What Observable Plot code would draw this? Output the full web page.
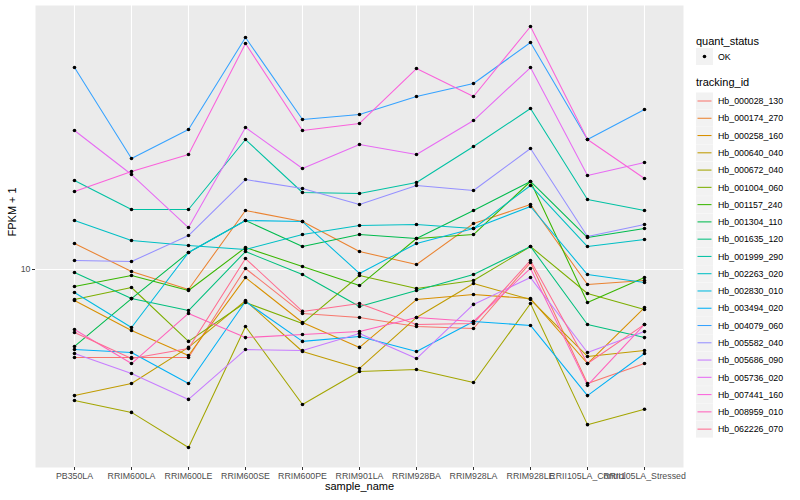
<!DOCTYPE html>
<html>
<head>
<meta charset="utf-8">
<script src="https://cdn.jsdelivr.net/npm/d3@7"></script>
<script src="https://cdn.jsdelivr.net/npm/@observablehq/plot@0.6"></script>
<style>
  body { margin: 0; background: #fff; }
  #wrap { position: relative; width: 800px; height: 500px; font-family: "Liberation Sans", Arial, sans-serif; }
  #chart { position: absolute; left: 0; top: 0; }
  #legend { position: absolute; left: 690px; top: 0; }
</style>
</head>
<body>
<div id="wrap"><div id="chart"></div><div id="legend"></div></div>
<script>
const samples = ["PB350LA","RRIM600LA","RRIM600LE","RRIM600SE","RRIM600PE","RRIM901LA","RRIM928BA","RRIM928LA","RRIM928LE","RRII105LA_Control","RRII105LA_Stressed"];
const ids = ["Hb_000028_130","Hb_000174_270","Hb_000258_160","Hb_000640_040","Hb_000672_040","Hb_001004_060","Hb_001157_240","Hb_001304_110","Hb_001635_120","Hb_001999_290","Hb_002263_020","Hb_002830_010","Hb_003494_020","Hb_004079_060","Hb_005582_040","Hb_005686_090","Hb_005736_020","Hb_007441_160","Hb_008959_010","Hb_062226_070"];
const colors = ["#F8766D","#EA8331","#D89000","#C09B00","#A3A500","#7CAE00","#39B600","#00BB4E","#00BF7D","#00C1A3","#00BFC4","#00BAE0","#00B0F6","#35A2FF","#9590FF","#C77CFF","#E76BF3","#FA62DB","#FF62BC","#FF6C90"];
// FPKM + 1 per tracking_id, in sample order
const Hb_000028_130 = [5.09,5.09,5.09,10.08,7.14,6.92,6.46,6.36,10.55,4.17,4.86];
const Hb_000174_270 = [12.21,9.85,8.58,15.73,14.45,11.48,10.39,14.23,16.47,8.91,9.19];
const Hb_000258_160 = [7.88,6.26,5.17,9.40,6.66,5.50,7.94,8.25,8.00,4.86,7.47];
const Hb_000640_040 = [3.80,4.17,5.50,7.88,5.33,4.68,6.92,8.98,7.94,5.13,5.37];
const Hb_000672_040 = [3.66,3.34,2.55,6.46,3.55,4.57,4.64,4.20,7.70,3.04,3.42];
const Hb_001004_060 = [7.94,8.71,5.76,7.76,6.61,9.55,8.64,9.19,11.93,8.32,7.36];
const Hb_001157_240 = [8.78,9.55,8.51,11.84,10.23,8.84,12.69,13.08,19.65,7.76,9.40];
const Hb_001304_110 = [5.54,8.00,11.39,14.57,11.93,13.08,12.69,15.73,19.65,12.78,13.70];
const Hb_001635_120 = [9.77,8.00,7.30,11.48,9.62,7.53,8.51,9.62,11.93,6.56,5.93];
const Hb_001999_290 = [19.80,15.85,15.85,27.12,18.06,17.92,19.50,25.70,34.41,17.11,15.73];
const Hb_002263_020 = [14.57,12.49,12.02,11.66,13.08,14.02,14.12,13.70,19.06,11.93,12.59];
const Hb_002830_010 = [8.38,6.41,11.39,14.57,14.45,9.70,12.21,13.70,16.22,9.62,9.05];
const Hb_003494_020 = [5.41,5.29,4.17,7.82,5.76,5.98,5.33,6.71,6.51,3.80,5.25];
const Hb_004079_060 = [47.13,23.44,29.29,59.34,31.62,32.86,37.73,41.69,57.10,27.12,34.15];
const Hb_005582_040 = [10.72,10.63,12.98,19.95,18.62,16.47,19.06,18.34,25.31,12.88,14.12];
const Hb_005686_090 = [5.25,4.50,3.69,5.41,5.37,6.12,5.05,7.65,9.40,5.29,6.21];
const Hb_005736_020 = [29.06,20.73,13.80,29.74,21.71,26.10,24.17,31.38,47.13,20.58,22.73];
const Hb_007441_160 = [18.20,21.22,24.17,56.67,29.06,30.67,46.77,37.73,64.57,27.12,20.11];
const Hb_008959_010 = [6.31,4.86,7.14,5.93,6.07,6.21,6.92,6.71,10.08,4.11,6.56];
const Hb_062226_070 = [6.17,5.05,5.45,10.88,7.25,7.70,6.56,6.61,10.72,4.86,6.56];
const yTicks = [10];

const series = [Hb_000028_130,Hb_000174_270,Hb_000258_160,Hb_000640_040,Hb_000672_040,Hb_001004_060,Hb_001157_240,Hb_001304_110,Hb_001635_120,Hb_001999_290,Hb_002263_020,Hb_002830_010,Hb_003494_020,Hb_004079_060,Hb_005582_040,Hb_005686_090,Hb_005736_020,Hb_007441_160,Hb_008959_010,Hb_062226_070];
const data = [];
ids.forEach((id, i) => series[i].forEach((v, j) => data.push({tracking_id: id, sample_name: samples[j], fpkm1: v, quant_status: "OK"})));

const font = '"Liberation Sans", Arial, sans-serif';
const chart = Plot.plot({
  width: 690, height: 500,
  marginLeft: 35, marginRight: 7, marginTop: 5, marginBottom: 33,
  style: {fontFamily: font, background: "transparent"},
  x: {type: "point", domain: samples, padding: 0.6},
  y: {type: "log", domain: [2.188, 75.86]},
  color: {domain: ids, range: colors},
  marks: [
    Plot.frame({fill: "#EBEBEB", stroke: null}),
    Plot.ruleX(samples, {x: d => d, stroke: "white", strokeWidth: 1.1}),
    Plot.ruleY(yTicks, {y: d => d, stroke: "white", strokeWidth: 1.1}),
    Plot.line(data, {x: "sample_name", y: "fpkm1", z: "tracking_id", stroke: "tracking_id", strokeWidth: 1.05}),
    Plot.dot(data, {x: "sample_name", y: "fpkm1", r: 1.8, fill: "black", stroke: null}),
    Plot.axisX({tickSize: 3, tickPadding: 2, fontSize: 8.8, stroke: "#333", color: "#4D4D4D", label: null}),
    Plot.axisY({ticks: yTicks, tickFormat: d => String(d), tickSize: 3, tickPadding: 2, fontSize: 8.8, stroke: "#333", color: "#4D4D4D", label: null}),
    Plot.text(["sample_name"], {frameAnchor: "bottom", dy: 22, fontSize: 11, fill: "black"}),
    Plot.text(["FPKM + 1"], {frameAnchor: "left", dx: -23, rotate: -90, fontSize: 11, fill: "black"})
  ]
});
document.getElementById("chart").appendChild(chart);

// legend
const lg = d3.select("#legend").append("svg").attr("width", 110).attr("height", 500)
  .style("font-family", font);
lg.append("text").attr("x", 6).attr("y", 45).attr("font-size", 11).text("quant_status");
lg.append("rect").attr("x", 6).attr("y", 48).attr("width", 17).attr("height", 17).attr("fill", "#F2F2F2");
lg.append("circle").attr("cx", 14.5).attr("cy", 56.5).attr("r", 1.8).attr("fill", "black");
lg.append("text").attr("x", 28).attr("y", 59.5).attr("font-size", 8.8).attr("fill", "black").text("OK");
lg.append("text").attr("x", 6).attr("y", 86).attr("font-size", 11).text("tracking_id");
ids.forEach((id, i) => {
  const y0 = 92.5 + i * 17.27;
  lg.append("rect").attr("x", 6).attr("y", y0).attr("width", 17).attr("height", 17).attr("fill", "#F2F2F2");
  lg.append("line").attr("x1", 7.5).attr("x2", 21.5).attr("y1", y0 + 8.5).attr("y2", y0 + 8.5)
    .attr("stroke", colors[i]).attr("stroke-width", 1.05);
  lg.append("text").attr("x", 28).attr("y", y0 + 11.7).attr("font-size", 8.8).text(id);
});
</script>
</body>
</html>
